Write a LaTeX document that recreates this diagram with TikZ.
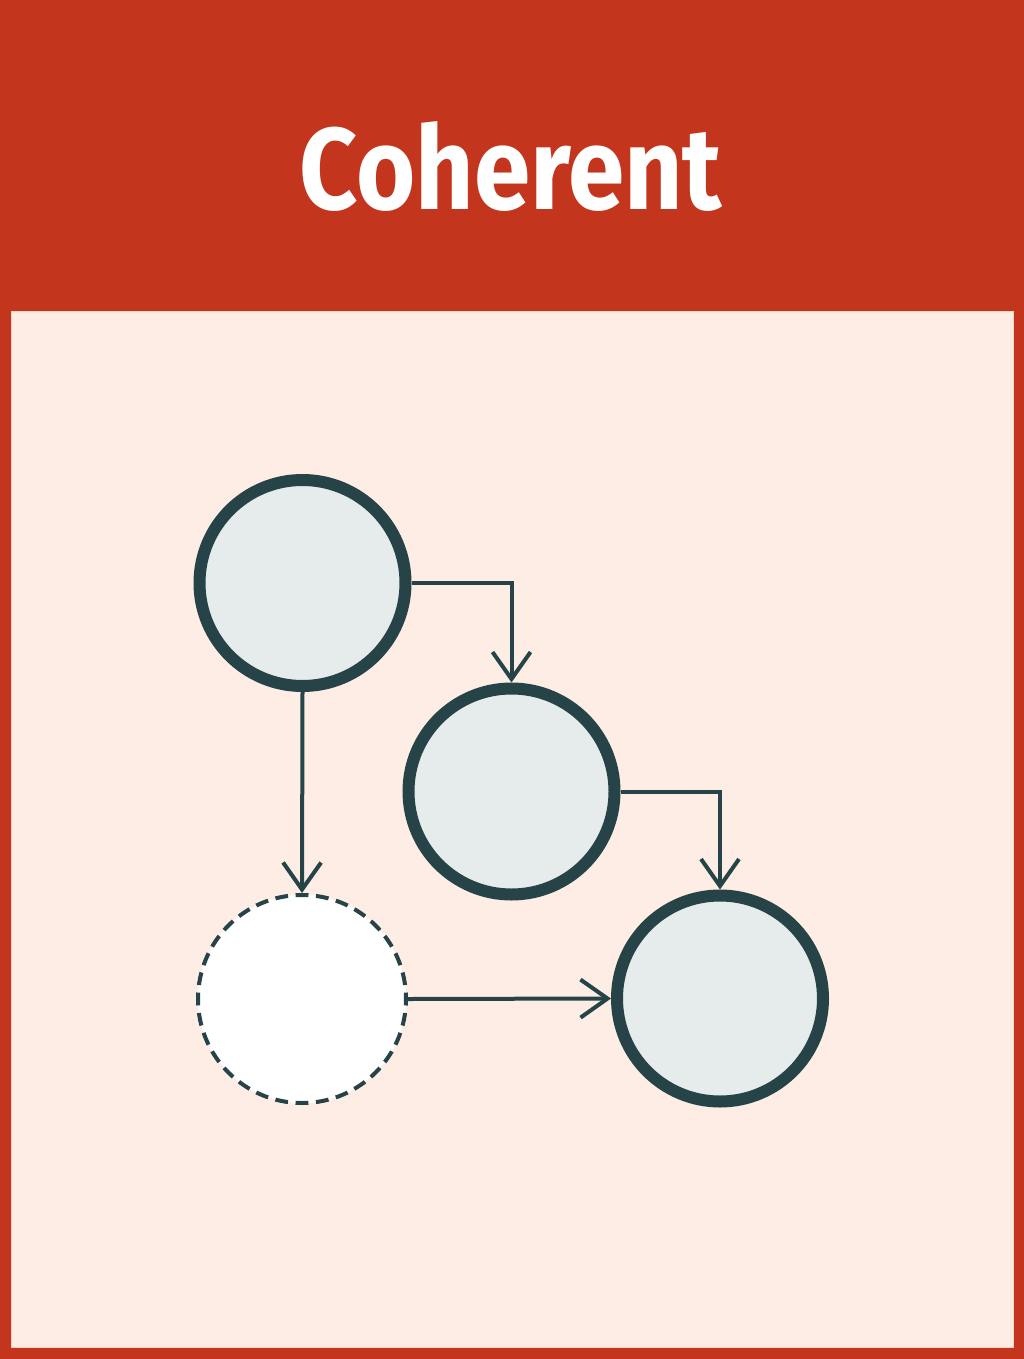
\documentclass[tikz,border=0pt]{standalone}
\usepackage{fontspec}
\setmainfont{Fira Sans}
\usetikzlibrary{arrows.meta}
\definecolor{hdr}{HTML}{C3351C}
\definecolor{bgpink}{HTML}{FEEDE4}
\definecolor{edgepink}{HTML}{F8D2C4}
\definecolor{ink}{HTML}{264348}
\definecolor{nodefill}{HTML}{E6EBEB}
\tikzset{
  mainnode/.style={circle, draw=ink, fill=nodefill, line width=12pt, minimum size=206pt, inner sep=0pt},
  ghostnode/.style={circle, draw=ink, fill=white, line width=4pt, minimum size=208pt, inner sep=0pt,
    dash pattern=on 12.8pt off 7.62pt, dash phase=6.4pt},
  conn/.style={draw=ink, line width=4pt, -{Straight Barb[length=27pt,width=38pt]}},
  titletext/.style={text=white, inner sep=0pt, font=\bfseries}
}
\begin{document}
\begin{tikzpicture}[x=1pt,y=-1pt]
\useasboundingbox (0,0) rectangle (1024,1359);
\fill[hdr] (0,0) rectangle (1024,1359);
\filldraw[fill=bgpink, draw=edgepink, line width=1pt] (11,311) rectangle (1013,1347);
\node[titletext] (title) at (511,166) {\resizebox{422pt}{88pt}{Coherent}};
\node[mainnode] (a) at (302.5,583) {};
\node[mainnode] (b) at (511.5,791.5) {};
\node[mainnode] (d) at (720,998.5) {};
\node[ghostnode] (c) at (302,999) {};
\draw[conn] (a.east) -| (b.north);
\draw[conn] (b.east) -| (d.north);
\draw[conn] (a.south) -- (c.north);
\draw[conn] (c.east) -- (d.west);
\end{tikzpicture}
\end{document}
